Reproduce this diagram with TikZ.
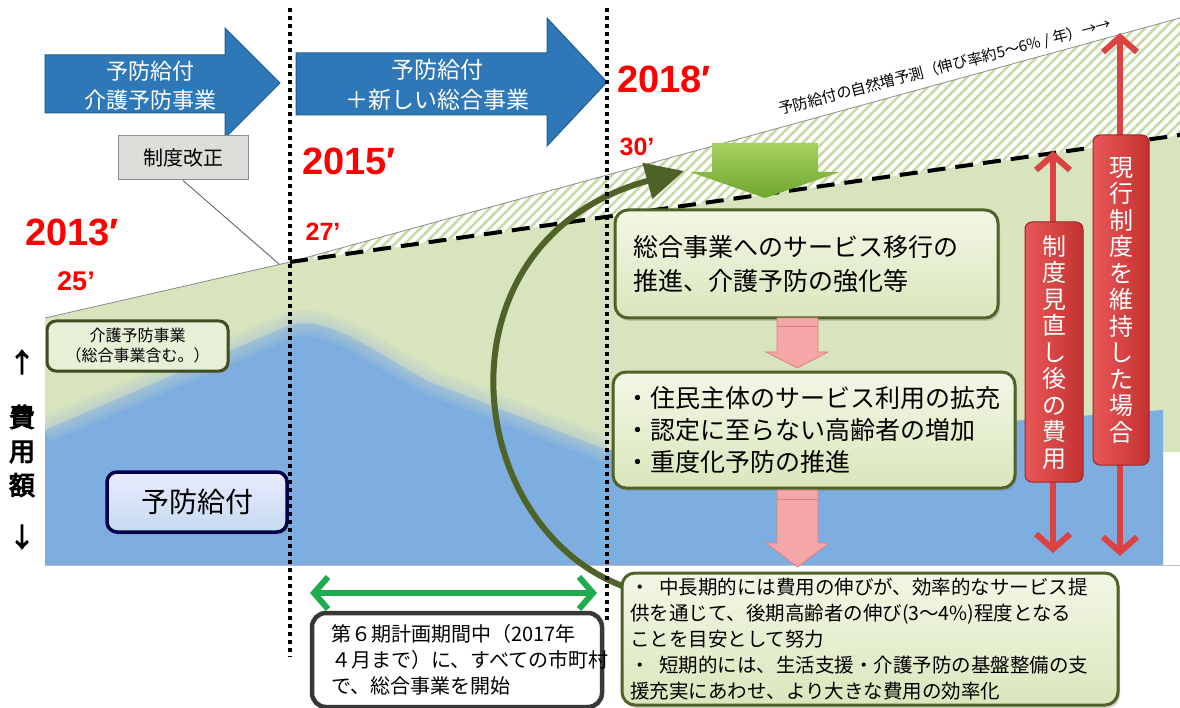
\documentclass[tikz,border=0pt]{standalone}
\usepackage{fontspec}
\setmainfont{Noto Sans CJK JP}
\newfontfamily\latb{Liberation Sans}
\newfontfamily\cjkb{Noto Sans CJK JP}[FakeBold=4]
\usetikzlibrary{arrows.meta,patterns.meta,shadows}
\newcommand\myfs[2]{\fontsize{#1}{#2}\selectfont}
\definecolor{ablue}{HTML}{2E78B8}
\definecolor{abluedark}{HTML}{1F5C94}
\definecolor{garea}{HTML}{D7E4BD}
\definecolor{hatchg}{HTML}{C8D9A6}
\definecolor{barea}{HTML}{7EAEDF}
\definecolor{haze}{HTML}{B4CCD2}
\definecolor{olive}{HTML}{4F6228}
\definecolor{boxgA}{HTML}{F3F7E6}
\definecolor{boxgB}{HTML}{DAE6BC}
\definecolor{brightg}{HTML}{1EAD4E}
\definecolor{redarr}{HTML}{DB4242}
\definecolor{redlabA}{HTML}{E95858}
\definecolor{redlabB}{HTML}{C33030}
\definecolor{pinkf}{HTML}{F5A6A6}
\definecolor{pinkd}{HTML}{E08080}
\definecolor{leafA}{HTML}{A6D160}
\definecolor{leafB}{HTML}{6FA530}
\definecolor{kaiseif}{HTML}{DEDCD9}
\definecolor{yrred}{HTML}{FF0000}
\begin{document}
\begin{tikzpicture}[x=1pt,y=-1pt,
  bluearr/.style={fill=ablue,draw=abluedark,line width=1pt},
  arrtext/.style={text=white,align=center},
  yearlab/.style={text=yrred,font=\latb\bfseries\myfs{38}{42},inner sep=0pt},
  smalllab/.style={text=yrred,font=\latb\bfseries\myfs{27}{30},inner sep=0pt},
  gbox/.style={rounded corners=13pt,draw=olive,line width=3pt,top color=boxgA,bottom color=boxgB,
     drop shadow={shadow xshift=2pt,shadow yshift=-3pt,opacity=.35},align=left,anchor=center},
  redlab/.style={rounded corners=7pt,draw=redlabB!80!black,line width=1pt,left color=redlabA,right color=redlabB,
     text=white,align=center,font=\myfs{24}{26.5},inner sep=0pt},
  redarrow/.style={draw=redarr,line width=6pt,{Straight Barb[length=15pt,width=34pt]}-{Straight Barb[length=15pt,width=34pt]}},
  pinkarr/.style={fill=pinkf,draw=pinkd,line width=0.8pt},
  blur/.style={draw=haze,opacity=.22},
  ]
\useasboundingbox (0,0) rectangle (1180,708);
\fill[white] (0,0) rectangle (1180,708);
% green area
\fill[garea] (45,318) -- (290,262) -- (1180,135) -- (1180,452) -- (1163,452) -- (1163,565) -- (45,565) -- cycle;
% hatched growth band
\fill[white] (290,262) -- (1180,18) -- (1180,135) -- cycle;
\fill[pattern={Lines[angle=45,distance=7pt,line width=2.6pt]},pattern color=hatchg] (290,262) -- (1180,18) -- (1180,135) -- cycle;
% blue area
\fill[barea] (45,565) -- (45,430) -- (290,325) .. controls (330,315) and (370,350) .. (430,382) -- (607,450) -- (1163,410) -- (1163,565) -- cycle;
\begin{scope}
\clip (45,300) rectangle (607,565);
\foreach \w in {26,18,11,5}{
  \draw[blur,line width=\w pt] (45,430) -- (290,325) .. controls (330,315) and (370,350) .. (430,382) -- (607,450);
}
\end{scope}
% boundary lines
\draw[line width=0.8pt,draw=black!45] (45,318) -- (290,262) -- (1180,18);
\draw[line width=0.8pt,draw=black!25] (45,565) -- (1180,565);
\draw[line width=4pt,dash pattern=on 18pt off 10pt] (290,262) -- (1180,135);
% blue top arrows
\draw[bluearr] (45,55) -- (225,55) -- (225,28) -- (280,83) -- (225,138) -- (225,113) -- (45,113) -- cycle;
\node[arrtext,font=\myfs{22}{29}] (a1) at (150,86) {予防給付\\介護予防事業};
\draw[bluearr] (296,53) -- (547,53) -- (547,18) -- (607,82) -- (547,146) -- (547,115) -- (296,115) -- cycle;
\node[arrtext,font=\myfs{23}{30}] (a2) at (437,85) {予防給付\\＋新しい総合事業};
% system revision box
\coordinate (p27) at (279,264);
\node[draw=black!45,fill=kaiseif,line width=1pt,minimum width=130pt,minimum height=44pt,font=\myfs{20}{24}] (kaisei) at (183,158) {制度改正};
\draw[line width=0.8pt,draw=black!65] (kaisei.south) -- (p27);
% year labels
\node[yearlab] (y2013) at (72,232) {2013′};
\node[yearlab] (y2015) at (349,161) {2015′};
\node[yearlab] (y2018) at (664,79) {2018′};
\node[smalllab] (n25) at (76,281) {25’};
\node[smalllab,font=\latb\bfseries\myfs{25}{28}] (n27) at (323,232) {27’};
\node[smalllab,font=\latb\bfseries\myfs{25}{28}] (n30) at (637,147) {30’};
% growth text
\node[rotate=14.5,font=\myfs{15}{17},inner sep=1pt] (growth) at (945,67) {予防給付の自然増予測（伸び率約5～6\% / 年）→→};
% green down arrow
\shade[top color=leafA,bottom color=leafB] (712,143) -- (818,143) -- (818,172) -- (840,172) -- (765,198) -- (690,172) -- (712,172) -- cycle;
% curved arrow
\coordinate (cs) at (628,588);
\coordinate (ce) at (684,171);
\draw[draw=olive,line width=6pt,-{Triangle[length=38pt,width=36pt]}] (cs) .. controls (460,530) and (430,240) .. (ce);
% dotted period lines
\draw[line width=4pt,dash pattern=on 4pt off 4pt] (290,8) -- (290,657);
\draw[line width=4pt,dash pattern=on 4pt off 4pt] (607,8) -- (607,620);
% boxes
\node[gbox,minimum width=383pt,minimum height=108pt,text width=347pt,inner xsep=18pt,font=\myfs{25}{34}] (boxA) at (806.5,264) {総合事業へのサービス移行の\\推進、介護予防の強化等};
\node[gbox,minimum width=402pt,minimum height=116pt,text width=378pt,inner xsep=12pt,font=\myfs{25}{32}] (boxB) at (814,430) {・住民主体のサービス利用の拡充\\・認定に至らない高齢者の増加\\・重度化予防の推進};
\node[gbox,minimum width=496pt,minimum height=132pt,text width=480pt,inner xsep=8pt,inner ysep=2pt,font=\myfs{19.5}{25.8}] (boxC) at (870,639) {・\hspace{0.5em}中長期的には費用の伸びが、効率的なサービス提\\供を通じて、後期高齢者の伸び(3～4\%)程度となる\\ことを目安として努力\\・\hspace{0.5em}短期的には、生活支援・介護予防の基盤整備の支\\援充実にあわせ、より大きな費用の効率化};
\node[rounded corners=14pt,draw=black!78,line width=4.5pt,fill=white,minimum width=290pt,minimum height=94pt,text width=252pt,inner xsep=19pt,align=left,font=\myfs{20}{26}] (box6) at (457,660) {第６期計画期間中（2017年\\４月まで）に、すべての市町村\\で、総合事業を開始};
\node[rounded corners=9pt,draw=olive!80!black,line width=3pt,fill=garea!60!white,minimum width=181pt,minimum height=50pt,align=center,font=\myfs{16}{20},inner sep=0pt,
   drop shadow={shadow xshift=2pt,shadow yshift=-2pt,opacity=.3}] (kaigo) at (137.5,346) {介護予防事業\\（総合事業含む。）};
\node[rounded corners=10pt,draw=black!70!blue,line width=3.5pt,top color=blue!8!white,bottom color=barea!45!white,minimum width=180pt,minimum height=60pt,font=\myfs{28}{32},
   drop shadow={shadow xshift=2pt,shadow yshift=-3pt,opacity=.3}] (yobo) at (197,502) {予防給付};
% pink arrows
\draw[pinkarr] (777,318) -- (818,318) -- (818,352) -- (828,352) -- (797.5,368) -- (766,352) -- (777,352) -- cycle;
\draw[pinkd,line width=0.8pt] (777,326) -- (818,326);
\draw[pinkarr] (777,490) -- (818,490) -- (818,543) -- (829,543) -- (797.5,567) -- (766,543) -- (777,543) -- cycle;
\draw[pinkd,line width=0.8pt] (777,499) -- (818,499);
% red arrows
\coordinate (r1t) at (1053,151);
\coordinate (r1b) at (1053,553);
\coordinate (r2t) at (1120,33);
\coordinate (r2b) at (1120,556);
\draw[redarrow] (r1b) -- (r1t);
\draw[redarrow] (r2b) -- (r2t);
\node[redlab,minimum width=58pt,minimum height=260pt] (r1lab) at (1054,352) {制\\度\\見\\直\\し\\後\\の\\費\\用};
\node[redlab,minimum width=56pt,minimum height=330pt] (r2lab) at (1121,300) {現\\行\\制\\度\\を\\維\\持\\し\\た\\場\\合};
% green period arrow
\coordinate (gl) at (310,593);
\coordinate (gr) at (597,593);
\draw[draw=brightg,line width=6pt,{Straight Barb[length=14pt,width=32pt]}-{Straight Barb[length=14pt,width=32pt]}] (gl) -- (gr);
% vertical axis label
\node[font=\cjkb\myfs{26}{30}] (up) at (22,362) {↑};
\node[font=\cjkb\myfs{26}{34},align=center] (hiyou) at (22,451) {費\\用\\額};
\node[font=\cjkb\myfs{26}{30}] (down) at (22,537) {↓};
\end{tikzpicture}
\end{document}
